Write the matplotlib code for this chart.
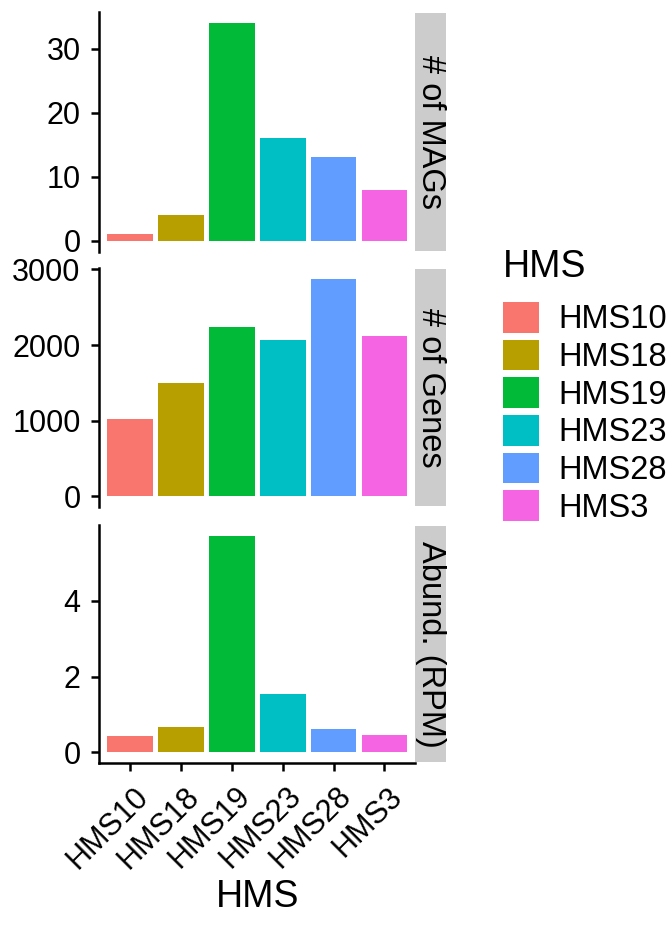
import numpy as np
import matplotlib.pyplot as plt
from matplotlib.patches import Patch
from matplotlib.transforms import ScaledTranslation

plt.rcParams['font.family'] = ['Liberation Sans', 'DejaVu Sans']

samples = ["HMS10", "HMS18", "HMS19", "HMS23", "HMS28", "HMS3"]
colors = ["#F8766D", "#B79F00", "#00BA38", "#00BFC4", "#619CFF", "#F564E3"]

n_mags = [1, 4, 34, 16, 13, 8]
n_genes = [1020, 1499, 2243, 2070, 2872, 2124]
abund_rpm = [0.43, 0.67, 5.72, 1.54, 0.62, 0.46]

panels = [
    ("# of MAGs", n_mags, [0, 10, 20, 30]),
    ("# of Genes", n_genes, [0, 1000, 2000, 3000]),
    ("Abund. (RPM)", abund_rpm, [0, 2, 4]),
]

W, H = 667, 926
fig = plt.figure(figsize=(W / 100, H / 100), dpi=100)

def frac(x0, y0, x1, y1):
    return [x0 / W, 1 - y1 / H, (x1 - x0) / W, (y1 - y0) / H]

rows = [(12, 251.7), (268.3, 507), (525, 763.3)]
x_left, x_right, strip_right = 99.3, 415, 446

pos = np.arange(len(samples))
for i, ((label, vals, ticks), (y0, y1)) in enumerate(zip(panels, rows)):
    ax = fig.add_axes(frac(x_left, y0, x_right, y1))
    ax.bar(pos, vals, width=0.9, color=colors)
    vmax = max(vals)
    ax.set_ylim(-0.05 * vmax, 1.05 * vmax)
    ax.set_xlim(-0.6, len(samples) - 0.4)
    ax.set_yticks(ticks)
    ax.set_yticklabels([str(t) for t in ticks])
    for s in ["top", "right"]:
        ax.spines[s].set_visible(False)
    ax.spines["left"].set_linewidth(1.8)
    ax.tick_params(axis="y", labelsize=22, length=6, width=1.8, pad=7.4)
    if i == len(panels) - 1:
        ax.spines["bottom"].set_linewidth(1.8)
        ax.set_xticks(pos)
        ax.set_xticklabels(samples, rotation=45, ha="right", va="top",
                           rotation_mode="anchor")
        ax.tick_params(axis="x", labelsize=22, length=6, width=1.8, pad=7)
        shift = ScaledTranslation(3 / 100, 0, fig.dpi_scale_trans)
        for t in ax.get_xticklabels():
            t.set_transform(t.get_transform() + shift)
    else:
        ax.spines["bottom"].set_visible(False)
        ax.set_xticks([])

    # facet strip on the right
    sax = fig.add_axes(frac(x_right, y0 + 1, strip_right, y1 - 1))
    sax.set_facecolor("#CCCCCC")
    sax.set_xticks([])
    sax.set_yticks([])
    for s in sax.spines.values():
        s.set_visible(False)
    sax.text(0.5, 0.5, label, rotation=270, ha="center", va="center",
             fontsize=23.5, transform=sax.transAxes)

# x axis title
fig.text((x_left + x_right) / 2 / W, 1 - 907 / H, "HMS", ha="center",
         va="baseline", fontsize=27)

# legend
fig.text(503 / W, 1 - 277 / H, "HMS", ha="left", va="baseline", fontsize=27)
handles = [Patch(facecolor=c, edgecolor="none") for c in colors]
fig.legend(handles, samples, loc="upper left",
           bbox_to_anchor=(503 / W, 1 - 302 / H), frameon=False,
           fontsize=23.5, handlelength=1.095, handleheight=1.064,
           labelspacing=0.13, handletextpad=0.6, borderpad=0, borderaxespad=0)

fig.savefig("out.png", dpi=100)
